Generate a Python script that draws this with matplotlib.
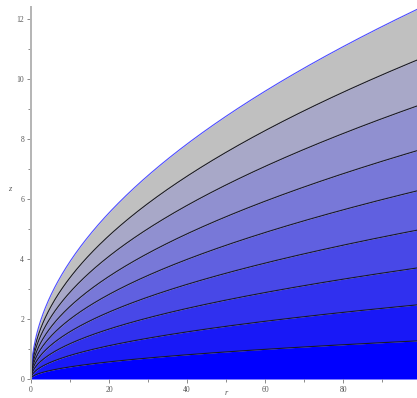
import matplotlib
matplotlib.use("Agg")
import matplotlib.pyplot as plt
import numpy as np

# heights of each curve at the right edge (r = 98.9), bottom to top
r_max = 98.9
end_heights = [1.27, 2.47, 3.70, 4.96, 6.27, 7.61, 9.10, 10.63, 12.32]

# band colours run from pure blue at the bottom to grey at the top
band_low = np.array([0, 0, 255]) / 255
band_high = np.array([192, 192, 192]) / 255

x_ticks = [0, 20, 40, 60, 80]
y_ticks = [0, 2, 4, 6, 8, 10, 12]


def curve(r, h):
    # each level is a square-root profile through its right-edge height
    return h * np.sqrt(r / r_max)


fig = plt.figure(figsize=(4.17, 3.98), dpi=100)
ax = fig.add_axes([31 / 417, 19 / 398, 1 - 31 / 417, (379 - 7) / 398])

r = np.linspace(0, r_max, 800)
prev = np.zeros_like(r)
n = len(end_heights)
for i, h in enumerate(end_heights):
    y = curve(r, h)
    t = i / (n - 1)
    color = band_low + t * (band_high - band_low)
    ax.fill_between(r, prev, y, color=color, linewidth=0)
    prev = y

for i, h in enumerate(end_heights):
    y = curve(r, h)
    if i == n - 1:
        ax.plot(r, y, color=(0.3, 0.3, 1.0), lw=0.8)
    else:
        ax.plot(r, y, color=(0.1, 0.1, 0.15), lw=0.8)

ax.set_xlim(0, r_max)
ax.set_ylim(0, (379 - 7) / 30)

for s in ["top", "right"]:
    ax.spines[s].set_visible(False)
ax.spines["bottom"].set_visible(False)
ax.spines["left"].set_color("#b4b4b4")
ax.spines["left"].set_linewidth(1.4)

ax.set_xticks(x_ticks)
ax.set_yticks(y_ticks)
ax.set_xticks([10, 30, 50, 70, 90], minor=True)
ax.set_yticks([1, 3, 5, 7, 9, 11], minor=True)
ax.tick_params(which="major", length=3, width=0.6, color="#777777",
               labelsize=5.5, labelcolor="#555555", pad=2)
ax.tick_params(which="minor", length=2, width=0.6, color="#777777")
for lab in ax.get_xticklabels() + ax.get_yticklabels():
    lab.set_fontfamily("Liberation Serif")

ax.set_xlabel("r", fontsize=6, fontstyle="italic", fontfamily="Liberation Serif",
              color="#555555", labelpad=1)
ax.set_ylabel("z", fontsize=6, fontstyle="italic", fontfamily="Liberation Serif",
              color="#555555", rotation=0, labelpad=6)
ax.yaxis.set_label_coords(-0.055, 0.5)
ax.xaxis.set_label_coords((226 - 31) / 386, -0.028)

fig.savefig("out.png", dpi=100)
